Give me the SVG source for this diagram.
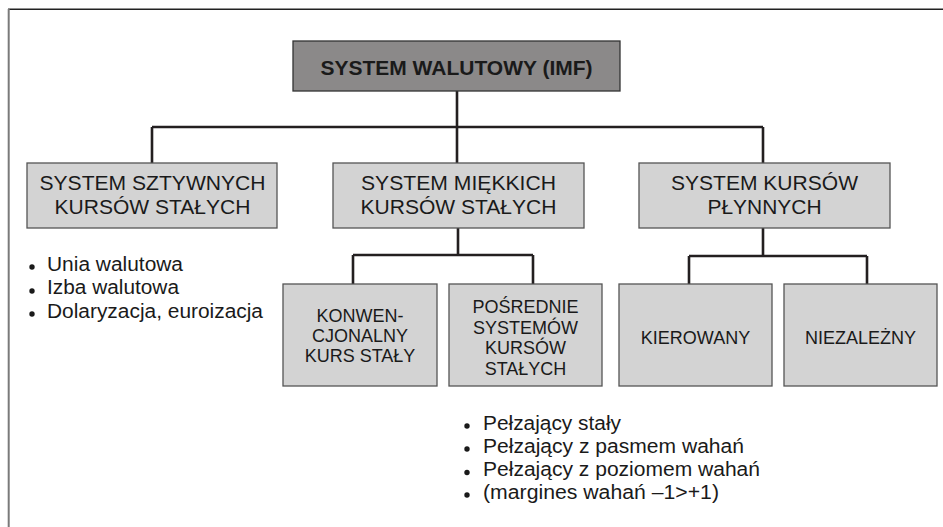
<svg xmlns="http://www.w3.org/2000/svg" width="943" height="527" viewBox="0 0 943 527">
<style>
.bg{fill:#ffffff}
.box{fill:#d3d3d3;stroke:#555555;stroke-width:1.3}
.top{fill:#8b8989;stroke:#333333;stroke-width:1.3}
.con{stroke:#231f20;stroke-width:2.6;fill:none}
text{font-family:"Liberation Sans",Arial,sans-serif;fill:#1a1a1a}
.t1{font-size:21px;font-weight:bold;text-anchor:middle}
.t2{font-size:20px;text-anchor:middle}
.t3{font-size:18px;text-anchor:middle}
.b{font-size:20px}
.dot{fill:#1a1a1a}
</style>
<rect class="bg" x="0" y="0" width="943" height="527"/>
<g id="frame">
<line x1="8" y1="9.3" x2="943" y2="9.3" stroke="#222" stroke-width="1.6"/>
<line x1="8.7" y1="9" x2="8.7" y2="527" stroke="#7a7a7a" stroke-width="2"/>
</g>
<g id="connectors">
<path class="con" d="M457 91V127M152 127H763M152 127V163M457 127V163M763 127V163"/>
<path class="con" d="M458 228V255M353 255H533M353 255V284M533 255V284"/>
<path class="con" d="M763 228V256M689 256H867M689 256V284M867 256V284"/>
</g>
<g id="n-root">
<rect class="top" x="293" y="41" width="327" height="50"/>
<text class="t1" x="456.5" y="74.5" textLength="272" lengthAdjust="spacingAndGlyphs">SYSTEM WALUTOWY (IMF)</text>
</g>
<g id="n-sztywne">
<rect class="box" x="27" y="163" width="250" height="65"/>
<text class="t2" x="152.5" y="190" textLength="226" lengthAdjust="spacingAndGlyphs">SYSTEM SZTYWNYCH</text>
<text class="t2" x="152.5" y="213.5" textLength="196" lengthAdjust="spacingAndGlyphs">KURSÓW STAŁYCH</text>
</g>
<g id="n-miekkie">
<rect class="box" x="333" y="163" width="251" height="65"/>
<text class="t2" x="458.5" y="190" textLength="195" lengthAdjust="spacingAndGlyphs">SYSTEM MIĘKKICH</text>
<text class="t2" x="458.5" y="213.5" textLength="196" lengthAdjust="spacingAndGlyphs">KURSÓW STAŁYCH</text>
</g>
<g id="n-plynne">
<rect class="box" x="639" y="163" width="251" height="65"/>
<text class="t2" x="764.5" y="190" textLength="187" lengthAdjust="spacingAndGlyphs">SYSTEM KURSÓW</text>
<text class="t2" x="764.5" y="213.5" textLength="114" lengthAdjust="spacingAndGlyphs">PŁYNNYCH</text>
</g>
<g id="n-konw">
<rect class="box" x="283" y="284" width="154" height="102"/>
<text class="t3" x="360" y="321.5">KONWEN-</text>
<text class="t3" x="360" y="341.5">CJONALNY</text>
<text class="t3" x="360" y="362">KURS STAŁY</text>
</g>
<g id="n-posr">
<rect class="box" x="449" y="284" width="153" height="102"/>
<text class="t3" x="525.5" y="313">POŚREDNIE</text>
<text class="t3" x="525.5" y="333.5">SYSTEMÓW</text>
<text class="t3" x="525.5" y="354">KURSÓW</text>
<text class="t3" x="525.5" y="374.5">STAŁYCH</text>
</g>
<g id="n-kier">
<rect class="box" x="619" y="284" width="153" height="102"/>
<text class="t3" x="695.5" y="344">KIEROWANY</text>
</g>
<g id="n-niez">
<rect class="box" x="784" y="284" width="153" height="102"/>
<text class="t3" x="860.5" y="344">NIEZALEŻNY</text>
</g>
<g id="list-sztywne">
<circle class="dot" cx="32" cy="267" r="2.7"/>
<circle class="dot" cx="32" cy="291" r="2.7"/>
<circle class="dot" cx="32" cy="314" r="2.7"/>
<text class="b" x="47" y="270.5" textLength="136" lengthAdjust="spacingAndGlyphs">Unia walutowa</text>
<text class="b" x="47" y="294" textLength="132" lengthAdjust="spacingAndGlyphs">Izba walutowa</text>
<text class="b" x="47" y="317.5" textLength="216" lengthAdjust="spacingAndGlyphs">Dolaryzacja, euroizacja</text>
</g>
<g id="list-posrednie">
<circle class="dot" cx="467" cy="426" r="2.7"/>
<circle class="dot" cx="467" cy="449" r="2.7"/>
<circle class="dot" cx="467" cy="472.5" r="2.7"/>
<circle class="dot" cx="467" cy="495" r="2.7"/>
<text class="b" x="483" y="429.5" textLength="138" lengthAdjust="spacingAndGlyphs">Pełzający stały</text>
<text class="b" x="483" y="452.5" textLength="261" lengthAdjust="spacingAndGlyphs">Pełzający z pasmem wahań</text>
<text class="b" x="483" y="476" textLength="277" lengthAdjust="spacingAndGlyphs">Pełzający z poziomem wahań</text>
<text class="b" x="483" y="498.5" textLength="236" lengthAdjust="spacingAndGlyphs">(margines wahań –1&gt;+1)</text>
</g>
</svg>
